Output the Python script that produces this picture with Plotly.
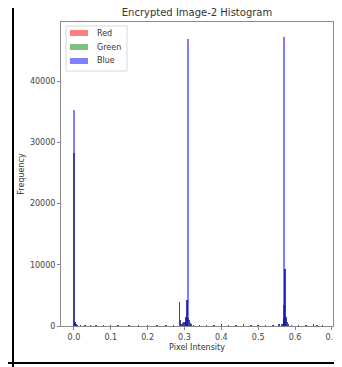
import plotly.graph_objects as go

# Histogram bins (centres, pixel intensity) and counts per channel
bin_centers = [0.000, 0.0027, 0.0054, 0.010, 0.018, 0.030, 0.045, 0.060, 0.080, 0.100,
               0.120, 0.150, 0.175, 0.200, 0.225, 0.250, 0.270, 0.286, 0.289, 0.292,
               0.295, 0.298, 0.301, 0.304, 0.307, 0.310, 0.313, 0.316, 0.319, 0.325,
               0.340, 0.360, 0.380, 0.400, 0.420, 0.440, 0.460, 0.480, 0.500, 0.520,
               0.540, 0.556, 0.565, 0.568, 0.570, 0.573, 0.576, 0.579, 0.582, 0.590,
               0.610, 0.630, 0.650, 0.660, 0.675]
red_counts = [28300, 700, 300, 150, 120, 200, 150, 180, 120, 200,
              100, 150, 120, 100, 150, 120, 200, 3950, 900, 400,
              500, 600, 700, 1500, 4200, 1300, 900, 500, 250, 200,
              200, 150, 200, 250, 200, 150, 250, 200, 150, 200,
              150, 250, 350, 1200, 3400, 9400, 1500, 700, 300, 200,
              150, 200, 250, 200, 150]
green_counts = list(red_counts)
blue_counts = [35300, 700, 300, 150, 120, 200, 150, 180, 120, 200,
               100, 150, 120, 100, 150, 120, 200, 3950, 900, 400,
               500, 600, 700, 1500, 4200, 46900, 900, 500, 250, 200,
               200, 150, 200, 250, 200, 150, 250, 200, 150, 200,
               150, 250, 350, 1200, 47200, 9400, 1500, 700, 300, 200,
               150, 200, 250, 200, 150]

channel_names = ["Red", "Green", "Blue"]
x_ticks = [0.0, 0.1, 0.2, 0.3, 0.4, 0.5, 0.6, 0.7]
y_ticks = [0, 10000, 20000, 30000, 40000]

BIN_W = 0.0038
FONT = "DejaVu Sans"
COLORS = ["rgba(255,0,0,0.5)", "rgba(0,128,0,0.5)", "rgba(0,0,255,0.5)"]

# page offset (browser body margin) and figure size
OFF = 8
W, H = 342 - OFF, 367 - OFF
# plot area in reference-window pixels
L, R, T, B = 61, 333, 22, 326
PW, PH = R - L, B - T


def px(x):
    return (x - L) / PW


def py(y):
    return (B - y) / PH


fig = go.Figure()
for name, counts, col in zip(channel_names, [red_counts, green_counts, blue_counts], COLORS):
    fig.add_trace(go.Bar(x=bin_centers, y=counts, name=name, width=BIN_W,
                         marker=dict(color=col, line=dict(width=0)), showlegend=False))

axis_common = dict(showgrid=False, zeroline=False, showline=True, mirror=True, automargin=False,
                   linecolor="#8a8a8a", linewidth=1, ticks="outside", ticklen=3,
                   tickcolor="#8a8a8a", tickfont=dict(size=8, color="#444", family=FONT))

fig.update_layout(
    width=W, height=H,
    margin=dict(l=L - OFF, r=342 - R, t=T - OFF, b=367 - B, autoexpand=False),
    paper_bgcolor="white", plot_bgcolor="white",
    barmode="overlay", bargap=0,
    font=dict(family=FONT, color="#333"),
    title=dict(text="Encrypted Image-2 Histogram", x=(197 - OFF) / W, xanchor="center",
               y=1 - (12 - OFF) / H, yanchor="middle", font=dict(size=10, color="#333", family=FONT)),
    xaxis=dict(range=[-0.035, 0.703], tickvals=x_ticks, ticktext=[f"{v:.1f}" for v in x_ticks],
               title=dict(text="Pixel Intensity", font=dict(size=8, color="#333", family=FONT), standoff=3),
               **axis_common),
    yaxis=dict(range=[0, 49700], tickvals=y_ticks, ticktext=[str(v) for v in y_ticks],
               title=dict(text="Frequency", font=dict(size=8, color="#333", family=FONT), standoff=4),
               **axis_common),
    showlegend=False,
)

# compact legend (matplotlib style)
fig.add_shape(type="rect", xref="paper", yref="paper", x0=px(66), x1=px(127), y0=py(71), y1=py(26),
              line=dict(color="#d9d9d9", width=1), fillcolor="white", layer="above")
for i, (name, col) in enumerate(zip(channel_names, COLORS)):
    yc = 33 + 14 * i
    fig.add_shape(type="rect", xref="paper", yref="paper", x0=px(70), x1=px(88),
                  y0=py(yc + 3), y1=py(yc - 3), line=dict(width=0), fillcolor=col, layer="above")
    fig.add_annotation(x=px(95), y=py(yc), xref="paper", yref="paper", text=name, showarrow=False,
                       xanchor="left", yanchor="middle", font=dict(size=8, color="#333", family=FONT))

# frame lines of the screenshot
fig.add_shape(type="line", xref="paper", yref="paper", x0=px(13), x1=px(13),
              y0=py(367), y1=py(0), line=dict(color="black", width=2))
fig.add_shape(type="line", xref="paper", yref="paper", x0=px(OFF), x1=px(342),
              y0=py(363), y1=py(363), line=dict(color="black", width=2))

fig.write_html("out.html")
